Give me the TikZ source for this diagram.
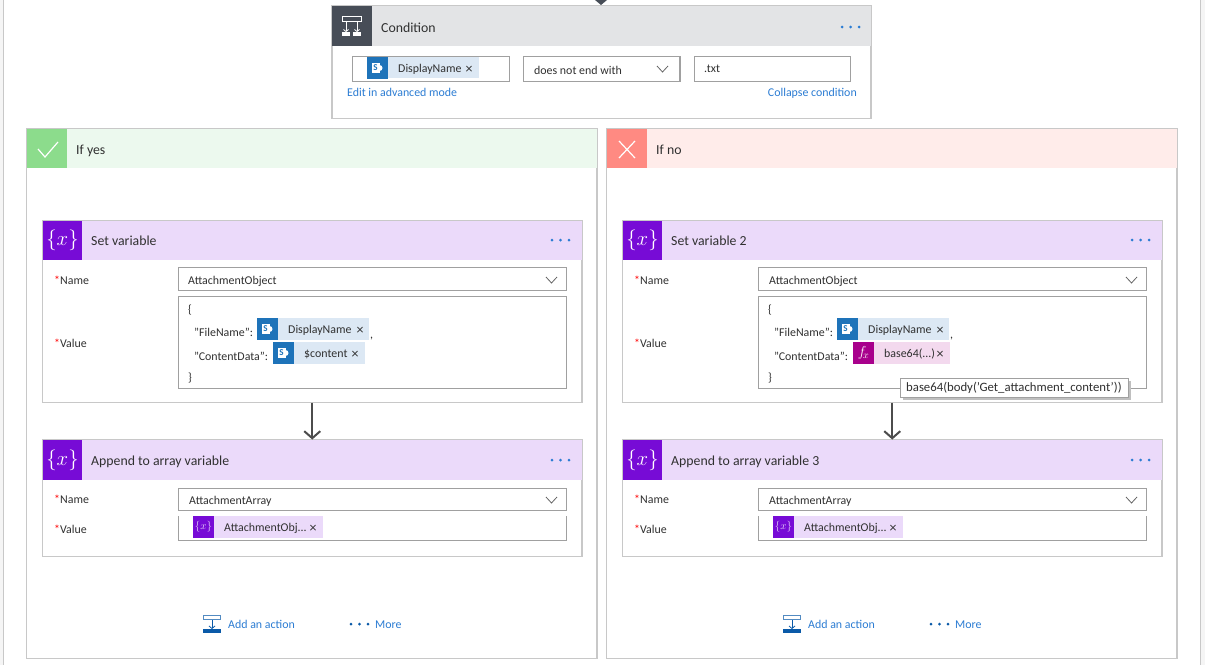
\documentclass[tikz,border=0pt]{standalone}
\usepackage{fontspec}
\setmainfont{Carlito}
\usetikzlibrary{arrows.meta, positioning, calc, shadows}

\definecolor{edgegray}{HTML}{C8C8C8}
\definecolor{inputgray}{HTML}{A0A0A0}
\definecolor{slate}{HTML}{474D57}
\definecolor{condhead}{HTML}{E3E4E6}
\definecolor{yeshead}{HTML}{ECF9EE}
\definecolor{yesicon}{HTML}{8CDC8C}
\definecolor{nohead}{HTML}{FFECEA}
\definecolor{noicon}{HTML}{FF8A82}
\definecolor{varhead}{HTML}{EBDAFA}
\definecolor{varicon}{HTML}{770BD6}
\definecolor{spblue}{HTML}{1E73B9}
\definecolor{spchip}{HTML}{DCE8F4}
\definecolor{fxicon}{HTML}{A8008C}
\definecolor{fxchip}{HTML}{F3D9EE}
\definecolor{linkblue}{HTML}{2B7CD3}
\definecolor{actblue}{HTML}{0A5AA8}
\definecolor{inktext}{HTML}{303030}

\tikzset{
  box/.style={anchor=north west, inner sep=0pt, outer sep=0pt},
  frame/.style={box, draw=edgegray, fill=white, line width=1.2pt},
  field/.style={box, draw=inputgray, fill=white, line width=1pt},
  band/.style={box},
  lbl/.style={anchor=west, inner sep=0pt, text height=10pt, text depth=.5pt, text=inktext, font=\fontsize{11.9}{14}\selectfont},
  title/.style={lbl, text height=12pt, font=\fontsize{13.8}{16}\selectfont},
  link/.style={lbl, text=linkblue},
  flow/.style={draw=black!70, line width=2pt, -{Straight Barb[length=7pt,width=16pt]}},
  chipx/.style={anchor=center, inner sep=0pt, yshift=-1.5pt, text=inktext, font=\fontsize{14}{14}\selectfont},
  bigvar/.style={box, fill=varicon, text=white, font=\fontsize{22}{22}\selectfont},
  smallvar/.style={box, fill=varicon, text=white!80!varicon, font=\fontsize{11}{11}\selectfont},
}

% small blue SharePoint square
\newcommand{\spicon}[3]{
  \node[box, fill=spblue, minimum width=21pt, minimum height=22pt] (#1) at (#2,#3) {};
  \fill[white] ($(#1.center)+(-6,-5)$) rectangle ($(#1.center)+(2,5)$);
  \fill[white] ($(#1.center)+(2,-3)$) arc (90:-90:3pt) -- cycle;
  \node[inner sep=0pt, text=spblue, font=\bfseries\fontsize{9}{9}\selectfont] at ($(#1.center)+(-2,0)$) {S};
}
% three dots
\newcommand{\moredots}[3]{
  \foreach \k in {0,1,2} \fill[#3] (#1+\k*8.5,#2) circle (1.5pt);
}

\begin{document}
\begin{tikzpicture}[x=1pt, y=-1pt]
\useasboundingbox (0,0) rectangle (1205,665);
% page strips
\fill[black!4] (0,0) rectangle (3,665);
\fill[black!4] (1200,0) rectangle (1205,665);
\draw[edgegray, line width=1pt] (3.5,0) -- (3.5,665);
\draw[edgegray, line width=1pt] (1200.5,0) -- (1200.5,665);
\fill[slate] (595,0) -- (607,0) -- (601,5) -- cycle;

% Condition card
\node[frame, minimum width=539pt, minimum height=113pt] (cond) at (332,5.5) {};
\node[band, fill=condhead, minimum width=539pt, minimum height=40pt] (condband) at (332,6) {};
\node[band, fill=slate, minimum width=40pt, minimum height=40pt] (condicon) at (332,6) {};
\draw[white, line width=1pt] (342.5,16.5) rectangle (361.5,21);
\draw[white, line width=.8pt, -{Straight Barb[length=2pt,width=5pt]}] (346,21) -- (346,32);
\draw[white, line width=.8pt, -{Straight Barb[length=2pt,width=5pt]}] (357,21) -- (357,32);
\fill[white] (342,32) rectangle (350,36);
\fill[white] (353,32) rectangle (361,36);
\node[title] (condtitle) at (381,27) {Condition};
\moredots{842}{27}{linkblue}

\node[field, minimum width=157pt, minimum height=25pt] (leftval) at (352,56) {};
\node[box, fill=spchip, minimum width=112pt, minimum height=21pt] (condchip) at (367,57) {};
\spicon{condsp}{367}{57}
\node[lbl] (condname) at (398,68) {DisplayName};
\node[chipx] (condx) at (469,68) {×};
\node[field, line width=1.6pt, minimum width=156.5pt, minimum height=25pt] (operator) at (523.5,56.5) {};
\node[lbl] (optext) at (534,70) {does not end with};
\draw[black!60, line width=.8pt] (657,66) -- (662.5,72) -- (668,66);
\node[field, minimum width=156.5pt, minimum height=25pt] (rightval) at (694,56) {};
\node[lbl] (rightext) at (704,68) {.txt};
\node[link] (advanced) at (347,92) {Edit in advanced mode};
\node[link, anchor=east] (collapse) at (857,92) {Collapse condition};

% If yes branch
\node[frame, minimum width=570.5pt, minimum height=530pt] (yes) at (26.5,128.5) {};
\node[band, fill=yeshead, minimum width=569.5pt, minimum height=39pt] (yesband) at (27,129) {};
\node[band, fill=yesicon, minimum width=40pt, minimum height=39pt] (yesicon) at (27,129) {};
\draw[white, line width=1.2pt] (38,149) -- (45,157) -- (58,142);
\node[title] (yestitle) at (76,149) {If yes};

% If no branch
\node[frame, minimum width=570.5pt, minimum height=530pt] (no) at (606.5,128.5) {};
\node[band, fill=nohead, minimum width=569.5pt, minimum height=39pt] (noband) at (607,129) {};
\node[band, fill=noicon, minimum width=40pt, minimum height=39pt] (noicon) at (607,129) {};
\draw[white, line width=1.2pt] (619,141) -- (635,158) (635,141) -- (619,158);
\node[title] (notitle) at (656,149) {If no};

% Set variable, left
\node[frame, minimum width=539.5pt, minimum height=182pt] (setyes) at (42.5,220.5) {};
\node[band, fill=varhead, minimum width=538.5pt, minimum height=39pt] (setyesband) at (43,221) {};
\node[bigvar, minimum width=39pt, minimum height=39pt] (setyesicon) at (43,221) {$\{x\}$};
\node[title] (setyestitle) at (91,240) {Set variable};
\moredots{552}{240}{linkblue}
\node[lbl] (setyesname) at (54,280) {\textcolor{red}{*}Name};
\node[field, minimum width=388.5pt, minimum height=23pt] (setyesvar) at (178,267) {};
\node[lbl] (setyesvartext) at (188,280) {AttachmentObject};
\draw[black!60, line width=.8pt] (546,277) -- (551.5,283) -- (557,277);
\node[lbl] (setyesvalue) at (54,343) {\textcolor{red}{*}Value};
\node[field, minimum width=388.5pt, minimum height=92pt] (setyesbody) at (178,296) {};
\node[lbl] (yesopen) at (188,309) {\{};
\node[lbl] (yesfile) at (194,332) {"FileName":};
\node[box, fill=spchip, minimum width=112pt, minimum height=22pt] (yesfilechip) at (257,318) {};
\spicon{yesfilesp}{257}{318}
\node[lbl] (yesfilename) at (288,329) {DisplayName};
\node[chipx] (yesfilex) at (360,329) {×};
\node[lbl] (yescomma) at (370,334) {,};
\node[lbl] (yesdata) at (194,356) {"ContentData":};
\node[box, fill=spchip, minimum width=92pt, minimum height=22pt] (yesdatachip) at (273,342) {};
\spicon{yesdatasp}{273}{342}
\node[lbl] (yescontent) at (304,353) {\$content};
\node[chipx] (yesdatax) at (355,353) {×};
\node[lbl] (yesclose) at (188,377) {\}};

% Append to array, left
\node[frame, minimum width=539.5pt, minimum height=117pt] (appendyes) at (42.5,439.5) {};
\node[band, fill=varhead, minimum width=538.5pt, minimum height=40pt] (appendyesband) at (43,440) {};
\node[bigvar, minimum width=39pt, minimum height=40pt] (appendyesicon) at (43,440) {$\{x\}$};
\node[title] (appendyestitle) at (91,460) {Append to array variable};
\moredots{552}{460}{linkblue}
\node[lbl] (appendyesname) at (54,499) {\textcolor{red}{*}Name};
\node[field, minimum width=388.5pt, minimum height=22pt] (appendyesvar) at (178,488) {};
\node[lbl] (appendyesvartext) at (189,500) {AttachmentArray};
\draw[black!60, line width=.8pt] (546,497) -- (551.5,503) -- (557,497);
\node[lbl] (appendyesvalue) at (54,529) {\textcolor{red}{*}Value};
\draw[inputgray, line width=1pt] (178.5,516) -- (178.5,540.5) -- (566.5,540.5) -- (566.5,516);
\node[box, fill=varhead, minimum width=130pt, minimum height=22pt] (yesobjchip) at (193,516) {};
\node[smallvar, minimum width=21pt, minimum height=22pt] (yesobjicon) at (193,516) {$\{x\}$};
\node[lbl] (yesobjtext) at (224,527) {AttachmentObj...};
\node[chipx] (yesobjx) at (313,527) {×};

% Set variable 2, right
\node[frame, minimum width=539.5pt, minimum height=182pt] (setno) at (622.5,220.5) {};
\node[band, fill=varhead, minimum width=538.5pt, minimum height=39pt] (setnoband) at (623,221) {};
\node[bigvar, minimum width=39pt, minimum height=39pt] (setnoicon) at (623,221) {$\{x\}$};
\node[title] (setnotitle) at (671,240) {Set variable 2};
\moredots{1132}{240}{linkblue}
\node[lbl] (setnoname) at (634,280) {\textcolor{red}{*}Name};
\node[field, minimum width=388.5pt, minimum height=23pt] (setnovar) at (758,267) {};
\node[lbl] (setnovartext) at (769,280) {AttachmentObject};
\draw[black!60, line width=.8pt] (1126,277) -- (1131.5,283) -- (1137,277);
\node[lbl] (setnovalue) at (634,343) {\textcolor{red}{*}Value};
\node[field, minimum width=388.5pt, minimum height=92pt] (setnobody) at (758,296) {};
\node[lbl] (noopen) at (768,309) {\{};
\node[lbl] (nofile) at (774,332) {"FileName":};
\node[box, fill=spchip, minimum width=112pt, minimum height=22pt] (nofilechip) at (837,318) {};
\spicon{nofilesp}{837}{318}
\node[lbl] (nofilename) at (868,329) {DisplayName};
\node[chipx] (nofilex) at (940,329) {×};
\node[lbl] (nocomma) at (950,334) {,};
\node[lbl] (nodata) at (774,356) {"ContentData":};
\node[box, fill=fxchip, minimum width=97pt, minimum height=22pt] (nodatachip) at (853,342) {};
\node[box, fill=fxicon, minimum width=21pt, minimum height=22pt, text=white, font=\fontsize{14}{14}\selectfont] (nodataicon) at (853,342) {$f_{\!x}$};
\node[lbl] (nobase) at (884,353) {base64(...)};
\node[chipx] (nodatax) at (940,353) {×};
\node[lbl] (noclose) at (768,377) {\}};

% Append to array variable 3, right
\node[frame, minimum width=539.5pt, minimum height=117pt] (appendno) at (622.5,439.5) {};
\node[band, fill=varhead, minimum width=538.5pt, minimum height=40pt] (appendnoband) at (623,440) {};
\node[bigvar, minimum width=39pt, minimum height=40pt] (appendnoicon) at (623,440) {$\{x\}$};
\node[title] (appendnotitle) at (671,460) {Append to array variable 3};
\moredots{1132}{460}{linkblue}
\node[lbl] (appendnoname) at (634,499) {\textcolor{red}{*}Name};
\node[field, minimum width=388.5pt, minimum height=22pt] (appendnovar) at (758,488) {};
\node[lbl] (appendnovartext) at (769,500) {AttachmentArray};
\draw[black!60, line width=.8pt] (1126,497) -- (1131.5,503) -- (1137,497);
\node[lbl] (appendnovalue) at (634,529) {\textcolor{red}{*}Value};
\draw[inputgray, line width=1pt] (758.5,516) -- (758.5,540.5) -- (1146.5,540.5) -- (1146.5,516);
\node[box, fill=varhead, minimum width=130pt, minimum height=22pt] (noobjchip) at (773,516) {};
\node[smallvar, minimum width=21pt, minimum height=22pt] (noobjicon) at (773,516) {$\{x\}$};
\node[lbl] (noobjtext) at (804,527) {AttachmentObj...};
\node[chipx] (noobjx) at (893,527) {×};

% connectors between the cards
\draw[flow] (setyes.south) -- (appendyes.north);
\draw[flow] (setno.south) -- (appendno.north);

% Add an action, More
\draw[actblue!70, line width=1pt] (203.5,615.5) rectangle (220.5,619.5);
\draw[actblue, line width=.8pt, -{Straight Barb[length=2.5pt,width=6pt]}] (212,620) -- (212,629);
\fill[actblue] (203,629) rectangle (221,633);
\node[link] (yesadd) at (228,624) {Add an action};
\moredots{351}{624}{actblue}
\node[link] (yesmore) at (375,624) {More};

\draw[actblue!70, line width=1pt] (783.5,615.5) rectangle (800.5,619.5);
\draw[actblue, line width=.8pt, -{Straight Barb[length=2.5pt,width=6pt]}] (792,620) -- (792,629);
\fill[actblue] (783,629) rectangle (801,633);
\node[link] (noadd) at (808,624) {Add an action};
\moredots{931}{624}{actblue}
\node[link] (nomore) at (955,624) {More};

% tooltip on top of the value box
\node[box, draw=inputgray, fill=white, line width=1pt, minimum width=228pt, minimum height=19pt, copy shadow={shadow xshift=2.5pt, shadow yshift=-2.5pt, draw=none, fill=black!25}] (tooltip) at (900.5,378.5) {};
\node[lbl, font=\fontsize{12.75}{14}\selectfont] (tooltiptext) at (906,387) {base64(body('Get\_attachment\_content'))};
\end{tikzpicture}
\end{document}
